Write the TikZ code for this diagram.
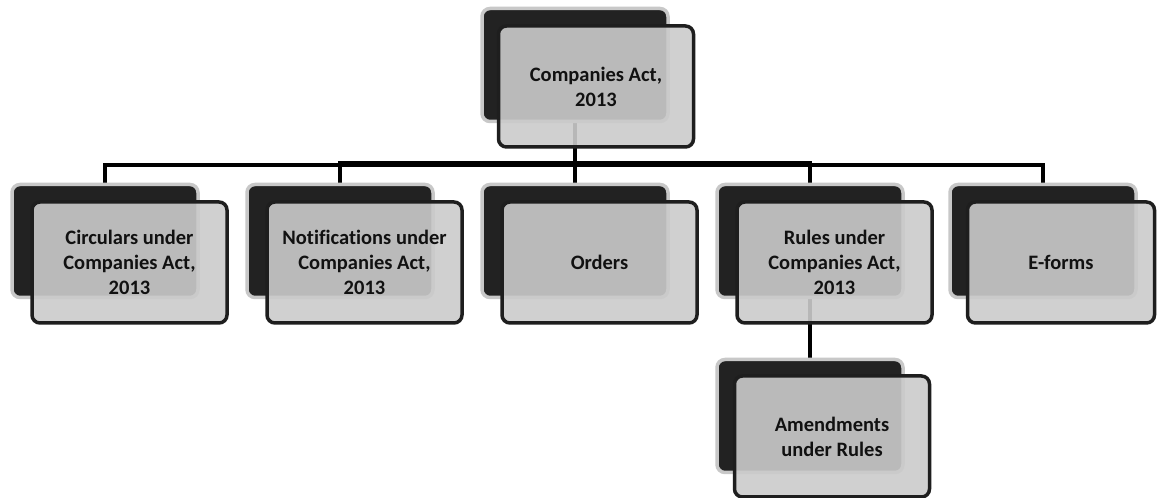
\documentclass[tikz,border=0pt]{standalone}
\usepackage{fontspec}
\setmainfont[Ligatures=NoCommon]{Carlito}
\usetikzlibrary{calc}
\definecolor{backfill}{HTML}{222222}
\definecolor{backline}{HTML}{C8C8C8}
\definecolor{frontline}{HTML}{1E1E1E}
\definecolor{txt}{HTML}{111111}
\tikzset{
  backbox/.style={draw=backline, line width=3.5pt, fill=backfill, rounded corners=8pt,
    minimum width=186pt, minimum height=113pt, inner sep=0pt},
  frontbox/.style={draw=frontline, line width=3.5pt, fill={rgb,255:red,203;green,203;blue,203},
    fill opacity=0.9, text opacity=1, rounded corners=8pt,
    minimum width=195pt, minimum height=121pt, inner sep=2pt, align=center,
    text=txt, font=\fontsize{20.5}{25}\selectfont\bfseries},
  conn/.style={draw=black, line width=4pt}
}
\begin{document}
\begin{tikzpicture}[x=1pt,y=1pt]
\useasboundingbox (0,0) rectangle (1157,498);
\fill[white] (0,0) rectangle (1157,498);
% back box centres
\coordinate (topc) at (575,433);
\coordinate (c1c) at (105,257);
\coordinate (c2c) at (340,257);
\coordinate (c3c) at (575,257);
\coordinate (c4c) at (810,257);
\coordinate (c5c) at (1043,257);
\coordinate (amc) at (810,82);
% connectors (drawn first, beneath boxes)
\path (topc) ++(0,-56.5) coordinate (tops);
\path (c1c) ++(0,56) coordinate (c1n);
\path (c2c) ++(0,56) coordinate (c2n);
\path (c3c) ++(0,56) coordinate (c3n);
\path (c4c) ++(0,56) coordinate (c4n);
\path (c5c) ++(0,56) coordinate (c5n);
\path (c4c) ++(0,-56) coordinate (c4s);
\path (amc) ++(0,56) coordinate (amn);
\draw[conn] (tops) -- ++(0,-44) -| (c1n);
\draw[conn] (tops) -- ++(0,-44) -| (c5n);
\draw[conn] (tops) -- ++(0,-42) -| (c2n);
\draw[conn] (tops) -- ++(0,-42) -| (c4n);
\draw[conn] (tops) -- (c3n);
\draw[conn] (c4s) -- (amn);
% boxes
\node[backbox] (topb) at (topc) {};
\node[frontbox] (topf) at ($(topc)+(21,-21.5)$) {Companies Act,\\2013};
\foreach \n/\t in {c1/{Circulars under\\Companies Act,\\2013},
                   c2/{Notifications under\\Companies Act,\\2013},
                   c3/{Orders},
                   c4/{Rules under\\Companies Act,\\2013}}{
  \node[backbox] (\n b) at (\n c) {};
  \node[frontbox] (\n f) at ($(\n c)+(24.5,-21.5)$) {\t};
}
\node[backbox] (c5b) at (c5c) {};
\node[frontbox, minimum width=187pt] (c5f) at ($(c5c)+(18,-21.5)$) {E-forms};
\node[backbox] (amb) at (amc) {};
\node[frontbox] (amf) at ($(amc)+(22,-20.5)$) {Amendments\\under Rules};
\end{tikzpicture}
\end{document}
